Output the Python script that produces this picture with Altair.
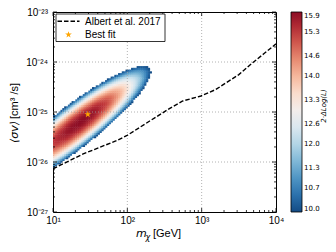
import json
import numpy as np
import pandas as pd
import altair as alt

# ---------------- data ----------------
# Albert et al. 2017 limit (dashed line)
limit_mass = [10, 25.5, 71.3, 97.7, 200, 368, 556, 977, 1549, 2113, 3162, 4786, 6918, 10000]
limit_sigmav = [7.3e-27, 1.45e-26, 2.67e-26, 3.35e-26, 6.6e-26, 1.17e-25, 1.66e-25,
                2.09e-25, 2.82e-25, 3.8e-25, 5.6e-25, 9.5e-25, 1.48e-24, 2.3e-24]

# best fit point
best_mass = [29.4]
best_sigmav = [9.0e-26]

# likelihood region (2*DeltaLogL >= 10), read as a tilted ellipse in log-log space
ts_peak = 15.9
ts_floor = 10.0
ellipse_center_log = [1.2544, -25.3366]   # log10(m), log10(sigma v)
major_axis = [1.0444, 1.2069]             # semi-axis vectors, decades
minor_axis = [0.1747, -0.3309]
peak_log = [1.388, -25.178]               # darkest point

cbar_ticks = [10.0, 10.7, 11.3, 12.0, 12.6, 13.3, 14.0, 14.6, 15.3, 15.9]

x_major = [10, 100, 1000, 10000]
x_labels = ["10¹", "10²", "10³", "10⁴"]
y_major = [1e-27, 1e-26, 1e-25, 1e-24, 1e-23]
y_labels = ["10⁻²⁷", "10⁻²⁶", "10⁻²⁵", "10⁻²⁴", "10⁻²³"]
x_grid = [100, 1000]
y_grid = [1e-26, 1e-25, 1e-24]
x_minor = [k * 10 ** e for e in (1, 2, 3) for k in range(2, 10)]
y_minor = [k * 10.0 ** e for e in (-27, -26, -25, -24) for k in range(2, 10)]

W, H = 223, 200
STAR = ("M0,-1L0.2245,-0.309L0.951,-0.309L0.3633,0.118L0.5878,0.809L0,0.382"
        "L-0.5878,0.809L-0.3633,0.118L-0.951,-0.309L-0.2245,-0.309Z")

# ---------------- heat-map cells ----------------
DU, DV = 0.025, 0.035
M = np.array([[major_axis[0], minor_axis[0]], [major_axis[1], minor_axis[1]]])
Minv = np.linalg.inv(M)
p = Minv @ (np.array(peak_log) - np.array(ellipse_center_log))
rows = []
for u0 in np.arange(1.0, 2.45, DU):
    for v0 in np.arange(-26.4, -23.9, DV):
        q = Minv @ (np.array([u0 + DU / 2, v0 + DV / 2]) - np.array(ellipse_center_log))
        if q @ q > 1.0:
            continue
        d = q - p
        dd = d @ d
        if dd < 1e-12:
            ratio = 0.0
        else:
            pd_ = p @ d
            t = (-pd_ + np.sqrt(pd_ * pd_ - dd * (p @ p - 1.0))) / dd
            ratio = 1.0 / t
        rows.append({
            "x": 10 ** u0, "x2": 10 ** (u0 + DU * 1.25),
            "y": 10 ** v0, "y2": 10 ** (v0 + DV * 1.25),
            "ts": ts_peak - (ts_peak - ts_floor) * ratio ** 2,
        })
heat_df = pd.DataFrame(rows)
line_df = pd.DataFrame({"mass": limit_mass, "sigmav": limit_sigmav})
star_df = pd.DataFrame({"mass": best_mass, "sigmav": best_sigmav})

FONT = "Liberation Sans"
xs = alt.Scale(type="log", domain=[10, 10000], nice=False)
ys = alt.Scale(type="log", domain=[1e-27, 1e-23], nice=False)

xlab = "%s[round(log(datum.value)/LN10) - 1]" % json.dumps(x_labels, ensure_ascii=False)
ylab = "%s[round(log(datum.value)/LN10) + 27]" % json.dumps(y_labels, ensure_ascii=False)

x_axis = alt.Axis(orient="bottom", values=x_major, ticks=False, domain=False, grid=False,
                  title=None, labelExpr=xlab, labelFont=FONT, labelFontSize=10,
                  labelColor="black", labelPadding=3, labelFlush=False, labelOverlap=False)
y_axis = alt.Axis(orient="left", values=y_major, ticks=False, domain=False, grid=False,
                  title=None, labelExpr=ylab, labelFont=FONT, labelFontSize=10,
                  labelColor="black", labelPadding=5.5, labelFlush=False, labelOverlap=False)


def X(field):
    return alt.X(field, type="quantitative", scale=xs, axis=x_axis)


def Y(field):
    return alt.Y(field, type="quantitative", scale=ys, axis=y_axis)


heat = alt.Chart(heat_df).mark_rect(clip=True).encode(
    x=X("x"), x2="x2", y=Y("y"), y2="y2",
    color=alt.Color("ts:Q",
                    scale=alt.Scale(scheme="redblue", reverse=True, domain=[ts_floor, ts_peak]),
                    legend=alt.Legend(orient="none", legendX=238, legendY=0, title=None,
                                      direction="vertical", gradientLength=H,
                                      gradientThickness=11, values=cbar_ticks,
                                      format=".1f", labelFontSize=7,
                                      labelFont="DejaVu Sans", labelOffset=2,
                                      labelColor="black",
                                      labelBaseline="middle", labelOverlap=False,
                                      gradientStrokeColor="black",
                                      gradientStrokeWidth=0.8, padding=0)),
)

grid_x = alt.Chart(pd.DataFrame({"g": x_grid})).mark_rule(
    color="#a0a0a0", strokeDash=[1, 2], strokeWidth=0.8).encode(x=X("g"))
grid_y = alt.Chart(pd.DataFrame({"g": y_grid})).mark_rule(
    color="#a0a0a0", strokeDash=[1, 2], strokeWidth=0.8).encode(y=Y("g"))

line = alt.Chart(line_df).mark_line(color="black", strokeDash=[4.5, 2], strokeWidth=1.4,
                                    clip=True).encode(x=X("mass"), y=Y("sigmav"))

star = alt.Chart(star_df).mark_point(shape=STAR, filled=True, color="#ffa500",
                                     size=50, opacity=1).encode(x=X("mass"), y=Y("sigmav"))


# inward ticks on all four sides
def xticks(vals, length):
    d = pd.DataFrame({"t": vals})
    b = alt.Chart(d).mark_rule(color="black", strokeWidth=0.8).encode(
        x=X("t"), y=alt.value(H), y2=alt.value(H - length))
    t = alt.Chart(d).mark_rule(color="black", strokeWidth=0.8).encode(
        x=X("t"), y=alt.value(0), y2=alt.value(length))
    return [b, t]


def yticks(vals, length):
    d = pd.DataFrame({"t": vals})
    l = alt.Chart(d).mark_rule(color="black", strokeWidth=0.8).encode(
        y=Y("t"), x=alt.value(0), x2=alt.value(length))
    r = alt.Chart(d).mark_rule(color="black", strokeWidth=0.8).encode(
        y=Y("t"), x=alt.value(W), x2=alt.value(W - length))
    return [l, r]


ticks = xticks(x_major, 4) + xticks(x_minor, 2) + yticks(y_major, 4) + yticks(y_minor, 2)

one = pd.DataFrame({"a": [0]})
leg_box = alt.Chart(one).mark_rect(fill="white", stroke="black", strokeWidth=0.8).encode(
    x=alt.value(3), x2=alt.value(112), y=alt.value(2), y2=alt.value(29.5))
leg_line = alt.Chart(one).mark_rule(color="black", strokeDash=[4.5, 2], strokeWidth=1.4).encode(
    x=alt.value(4.5), x2=alt.value(26.5), y=alt.value(9.3))
leg_star = alt.Chart(one).mark_point(shape=STAR, filled=True, color="#ffa500", size=50,
                                     opacity=1).encode(x=alt.value(15.5), y=alt.value(22.7))
leg_t1 = alt.Chart(one).mark_text(text="Albert et al. 2017", font=FONT, fontSize=10,
                                  align="left", baseline="alphabetic").encode(
    x=alt.value(32), y=alt.value(12.5))
leg_t2 = alt.Chart(one).mark_text(text="Best fit", font=FONT, fontSize=10,
                                  align="left", baseline="alphabetic").encode(
    x=alt.value(32), y=alt.value(26))

# axis titles
xt1 = alt.Chart(one).mark_text(text="m", font="DejaVu Sans", fontSize=11, fontStyle="italic",
                               align="left", baseline="alphabetic").encode(
    x=alt.value(83), y=alt.value(225))
xt2 = alt.Chart(one).mark_text(text="χ", font="DejaVu Sans", fontSize=8, fontStyle="italic",
                               align="left", baseline="alphabetic").encode(
    x=alt.value(92.5), y=alt.value(228))
xt3 = alt.Chart(one).mark_text(text="[GeV]", font=FONT, fontSize=11,
                               align="left", baseline="alphabetic").encode(
    x=alt.value(100), y=alt.value(225))
yt1 = alt.Chart(one).mark_text(text="⟨σv⟩", font="DejaVu Sans", fontSize=11, fontStyle="italic",
                               align="left", baseline="middle", angle=270).encode(
    x=alt.value(-38.5), y=alt.value(131))
yt2 = alt.Chart(one).mark_text(text="[cm³ /s]", font=FONT, fontSize=11,
                               align="left", baseline="middle", angle=270).encode(
    x=alt.value(-38.5), y=alt.value(107))
cbt = alt.Chart(one).mark_text(text="2·ΔLog(L)", font="DejaVu Sans", fontSize=7,
                               fontStyle="italic", align="center", baseline="middle",
                               angle=270).encode(
    x=alt.value(270.5), y=alt.value(94))

chart = alt.layer(
    heat, grid_x, grid_y, line, *ticks, star,
    leg_box, leg_line, leg_star, leg_t1, leg_t2,
    xt1, xt2, xt3, yt1, yt2, cbt,
).properties(
    width=W, height=H,
    autosize=alt.AutoSizeParams(type="none"),
    padding={"left": 45, "top": 4, "right": 52, "bottom": 32},
).configure_view(stroke="black", strokeWidth=1)

chart.save("out.html", embed_options={"renderer": "svg", "actions": False})
